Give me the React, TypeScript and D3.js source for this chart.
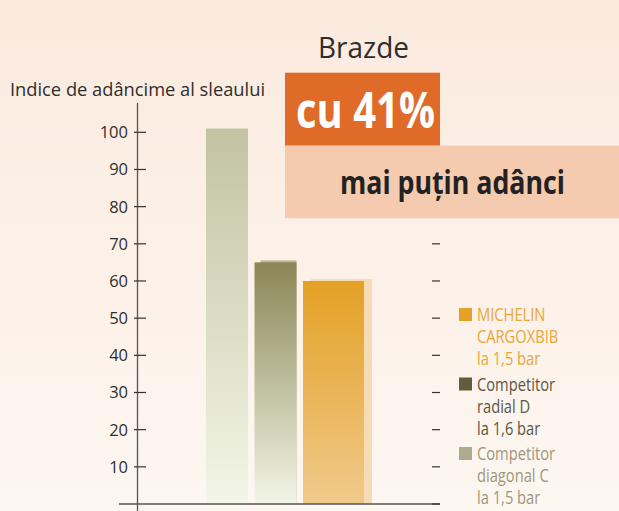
import React from "react";
import * as d3 from "d3";

const categories = ["Competitor diagonal C", "Competitor radial D", "MICHELIN CARGOXBIB"];
const values = [101, 65, 60];
const yTicks = [10, 20, 30, 40, 50, 60, 70, 80, 90, 100];
const rightTicks = [0, 10, 20, 30, 40, 50, 60, 70, 80, 90, 100];
const legendItems = [
  { lines: ["MICHELIN", "CARGOXBIB", "la 1,5 bar"], square: "#e4a126", text: "#e8a63a" },
  { lines: ["Competitor", "radial D", "la 1,6 bar"], square: "#615c3c", text: "#5c5742" },
  { lines: ["Competitor", "diagonal C", "la 1,5 bar"], square: "#adab8f", text: "#9c977d" },
];
const barStyles = [
  { w: 42, top: "#c3c2a2", bottom: "#f3f6e7", shadow: null as string | null, sdx: 0, sdw: 0 },
  { w: 42, top: "#8a8656", bottom: "#f3f6e7", shadow: "#bab590", sdx: 6, sdw: -6 },
  { w: 61, top: "#e4a025", bottom: "#f0ca8b", shadow: "#f6dbb5", sdx: 8, sdw: 0 },
];

export default function App() {
  const W = 619;
  const H = 511;
  const y = d3.scaleLinear().domain([0, 100]).range([504, 132.3]);
  const x = d3.scaleBand<string>().domain(categories).range([206, 351.5]).paddingInner(0).paddingOuter(0);
  const axisX = 137.5;
  const font = "'Open Sans', sans-serif";

  return (
    <svg width={W} height={H} style={{ position: "absolute", left: 0, top: 0, display: "block" }}>
      <defs>
        <linearGradient id="bg" x1="0" y1="0" x2="0" y2="1">
          <stop offset="0" stopColor="#fbeade" />
          <stop offset="1" stopColor="#fdf7f1" />
        </linearGradient>
        {barStyles.map((s, i) => (
          <linearGradient key={i} id={`bar${i}`} x1="0" y1="0" x2="0" y2="1">
            <stop offset="0" stopColor={s.top} />
            <stop offset="1" stopColor={s.bottom} />
          </linearGradient>
        ))}
      </defs>
      <rect x={0} y={0} width={W} height={H} fill="url(#bg)" />

      {/* bars */}
      {categories.map((c, i) => {
        const s = barStyles[i];
        const bx = x(c) as number;
        const top = y(values[i]);
        return (
          <g key={c}>
            {s.shadow && (
              <rect x={bx + s.sdx} y={top - 2} width={s.w + s.sdw} height={y(0) - top + 2} fill={s.shadow} />
            )}
            <rect x={bx} y={top} width={s.w} height={y(0) - top} fill={`url(#bar${i})`} />
          </g>
        );
      })}

      {/* axes */}
      <line x1={axisX} x2={axisX} y1={103} y2={511} stroke="#555" strokeWidth={1.3} />
      <line x1={119} x2={440} y1={y(0)} y2={y(0)} stroke="#555" strokeWidth={1.3} />
      {yTicks.map((t) => (
        <g key={t}>
          <line x1={134} x2={146} y1={y(t)} y2={y(t)} stroke="#333" strokeWidth={1.2} />
          <text x={128} y={y(t) + 6} textAnchor="end" fontFamily={font} fontSize={16.5} fill="#2e2e2e">
            {t}
          </text>
        </g>
      ))}
      {rightTicks.map((t) => (
        <line key={t} x1={432} x2={440} y1={y(t)} y2={y(t)} stroke="#333" strokeWidth={1.2} />
      ))}

      {/* titles */}
      <text x={10} y={96} fontFamily={font} fontSize={17.5} fill="#2e2e2e" textLength={255} lengthAdjust="spacingAndGlyphs">
        Indice de adâncime al sleaului
      </text>
      <text x={318} y={58} fontFamily={font} fontSize={29} fill="#2e2e2e" textLength={91} lengthAdjust="spacingAndGlyphs">
        Brazde
      </text>

      {/* callout boxes */}
      <rect x={285} y={72.7} width={155} height={73} fill="#e06b28" />
      <rect x={285} y={145.7} width={334} height={72.6} fill="#f4cbae" />
      <text x={296} y={128} fontFamily={font} fontWeight={700} fontSize={50} fill="#ffffff" textLength={139} lengthAdjust="spacingAndGlyphs">
        cu 41%
      </text>
      <text x={340} y={194} fontFamily={font} fontWeight={700} fontSize={33} fill="#222222" textLength={225} lengthAdjust="spacingAndGlyphs">
        mai puțin adânci
      </text>

      {/* legend */}
      {legendItems.map((it, i) => {
        const y0 = 308 + i * 69.5;
        return (
          <g key={i}>
            <rect x={459} y={y0} width={13} height={13} fill={it.square} />
            {it.lines.map((ln, j) => (
              <text
                key={j}
                transform={`translate(477,${y0 + 13 + j * 22}) scale(0.84,1)`}
                fontFamily={font}
                fontSize={17.5}
                fill={it.text}
              >
                {ln}
              </text>
            ))}
          </g>
        );
      })}
    </svg>
  );
}
